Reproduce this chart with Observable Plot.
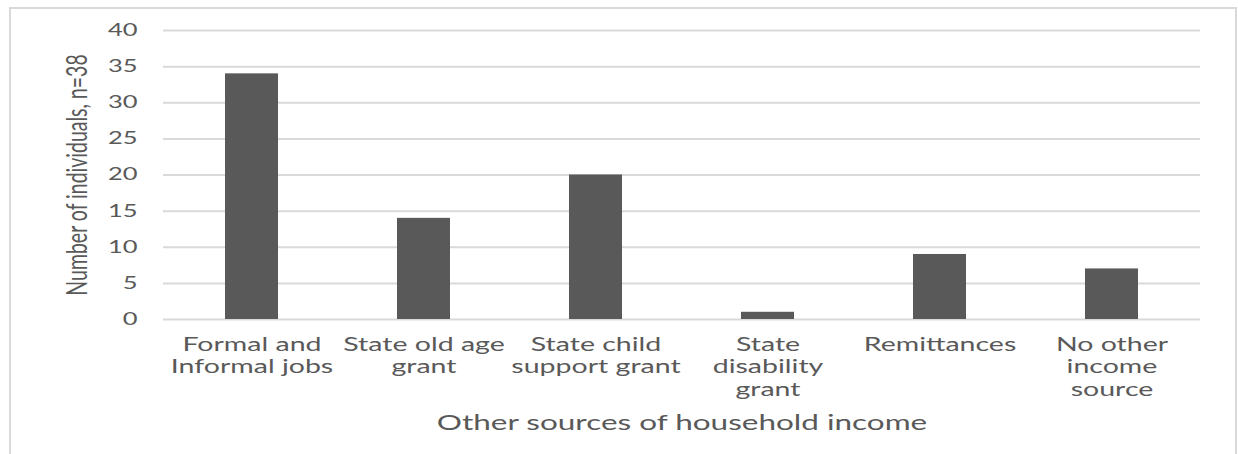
<!DOCTYPE html>
<html>
<head>
<meta charset="utf-8">
<script src="https://cdn.jsdelivr.net/npm/d3@7"></script>
<script src="https://cdn.jsdelivr.net/npm/@observablehq/plot@0.6"></script>
<style>
  html, body { margin: 0; padding: 0; background: #fff; overflow: hidden; width: 1238px; height: 454px; }
  #wrap { position: relative; width: 1238px; height: 454px; }
  #frame { position: absolute; left: 9px; top: 7px; width: 1228px; height: 520px; border: 2px solid #d9d9d9; box-sizing: border-box; pointer-events: none; }
  svg text { font-family: Lato, "Open Sans", sans-serif; fill: #595959; }
</style>
</head>
<body>
<div id="wrap"><div id="frame"></div><div id="chart"></div></div>
<script>
const categories = ["Formal and Informal jobs", "State old age grant", "State child support grant", "State disability grant", "Remittances", "No other income source"];
const tickLabels = ["Formal and\nInformal jobs", "State old age\ngrant", "State child\nsupport grant", "State\ndisability\ngrant", "Remittances", "No other\nincome\nsource"];
const counts = [34, 14, 20, 1, 9, 7];
const yTicks = [0, 5, 10, 15, 20, 25, 30, 35, 40];
const xTitle = "Other sources of household income";
const yTitle = "Number of individuals, n=38";

const data = categories.map((c, i) => ({category: c, value: counts[i]}));
const labelOf = new Map(categories.map((c, i) => [c, tickLabels[i]]));

const STRETCH = 1.5;

const chart = Plot.plot({
  width: 1238,
  height: 454,
  marginLeft: 163,
  marginRight: 38,
  marginTop: 30,
  marginBottom: 135,
  style: {background: "transparent", color: "#595959"},
  x: {domain: categories, paddingInner: 0.69, paddingOuter: 0.345, align: 0.5},
  y: {domain: [0, 40]},
  marks: [
    Plot.gridY(yTicks, {stroke: "#d9d9d9", strokeOpacity: 1, strokeWidth: 2}),
    Plot.barY(data, {x: "category", y: "value", fill: "#595959"}),
    Plot.axisY({ticks: yTicks, tickSize: 0, tickPadding: 26, fontSize: 17, label: yTitle, labelAnchor: "center", labelOffset: 97, labelArrow: "none"}),
    Plot.axisX({tickSize: 0, tickPadding: 15, fontSize: 19, lineHeight: 1.2, tickFormat: d => labelOf.get(d), label: xTitle, labelAnchor: "center", labelOffset: 110, labelArrow: "none"})
  ]
});
document.getElementById("chart").appendChild(chart);

// horizontal stretch of all text, as in the reference
d3.select(chart).selectAll("text").each(function() {
  const t = d3.select(this);
  const tr = t.attr("transform") || "";
  const rotated = /rotate\(-90\)/.test(tr);
  t.attr("transform", tr + (rotated ? ` scale(1,${STRETCH})` : ` scale(${STRETCH},1)`));
});
d3.select(chart).selectAll('g[aria-label="x-axis label"] text').style("font-size", "21px");
d3.select(chart).selectAll('g[aria-label="y-axis label"] text').style("font-size", "19.5px");
</script>
</body>
</html>
